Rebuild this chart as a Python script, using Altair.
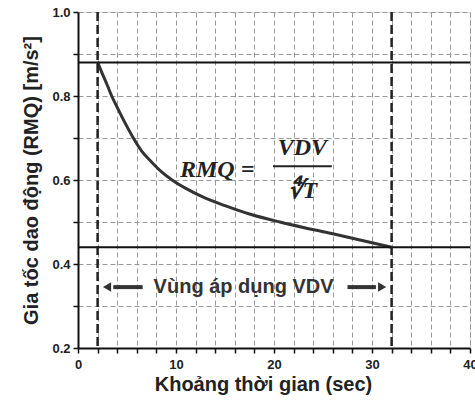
import altair as alt
import pandas as pd

# Curve RMQ vs time
curve_t = [2, 2.5, 3, 3.44, 4, 4.8, 5.6, 6.5, 7.5, 8.5, 9.6, 11, 13, 15, 17.5, 20.6, 23, 26, 29, 32]
curve_v = [0.880, 0.852, 0.825, 0.800, 0.773, 0.736, 0.702, 0.669, 0.643, 0.620, 0.600,
           0.580, 0.557, 0.539, 0.519, 0.500, 0.487, 0.472, 0.456, 0.440]

hlines = [0.88, 0.44]
vlines = [2, 32]
x_ticks = list(range(0, 41, 2))
y_ticks = [0.2, 0.3, 0.4, 0.5, 0.6, 0.7, 0.8, 0.9, 1.0]

x_title = "Khoảng thời gian (sec)"
y_title = "Gia tốc dao động (RMQ) [m/s²]"
region_label = "Vùng áp dụng VDV"

df_curve = pd.DataFrame({"t": curve_t, "v": curve_v})
df_h = pd.DataFrame({"y": hlines})
df_v = pd.DataFrame({"x": vlines})

xs = alt.Scale(domain=[0, 40], nice=False)
ys = alt.Scale(domain=[0.2, 1.0], nice=False)

FONT = "Liberation Sans"

xaxis = alt.Axis(values=x_ticks, tickCount=100, format="d",
                 labelExpr="datum.value % 10 == 0 ? datum.label : ''",
                 labelOverlap=False,
                 grid=True, gridDash=[5, 3], gridColor="#999", gridWidth=1,
                 domainColor="#111", domainWidth=2, tickColor="#111", tickWidth=1.5, tickSize=5,
                 labelFont=FONT, labelFontSize=13, labelFontWeight="bold", labelColor="#222",
                 labelPadding=5, labelFlush=False,
                 title=x_title, titleFont=FONT, titleFontSize=20, titleFontWeight="bold",
                 titleColor="#222", titlePadding=3, titleX=185)
yaxis = alt.Axis(values=y_ticks, tickCount=100, format=".1f",
                 labelExpr="round(datum.value*10) % 2 == 0 ? datum.label : ''",
                 labelOverlap=False,
                 grid=True, gridDash=[5, 3], gridColor="#999", gridWidth=1,
                 domainColor="#111", domainWidth=2, tickColor="#111", tickWidth=1.5, tickSize=5,
                 labelFont=FONT, labelFontSize=13, labelFontWeight="bold", labelColor="#222",
                 labelPadding=3, labelFlush=False,
                 title=y_title, titleFont=FONT, titleFontSize=20, titleFontWeight="bold",
                 titleColor="#222", titlePadding=10)

base_curve = alt.Chart(df_curve).mark_line(color="#333", strokeWidth=3, interpolate="monotone").encode(
    x=alt.X("t:Q", scale=xs, axis=xaxis),
    y=alt.Y("v:Q", scale=ys, axis=yaxis),
)

h_rules = alt.Chart(df_h).mark_rule(color="#111", strokeWidth=2).encode(
    y=alt.Y("y:Q", scale=ys)
)
v_rules = alt.Chart(df_v).mark_rule(color="#222", strokeWidth=2.5, strokeDash=[9, 4]).encode(
    x=alt.X("x:Q", scale=xs)
)

# Formula annotation
ann = pd.DataFrame({
    "x": [14.2, 22.9, 22.9],
    "y": [0.624, 0.676, 0.574],
    "txt": ["RMQ =", "VDV", "∜T"],
})
formula = alt.Chart(ann).mark_text(font="Liberation Serif", fontSize=24, fontStyle="italic",
                                   fontWeight="bold", color="#222").encode(
    x=alt.X("x:Q", scale=xs), y=alt.Y("y:Q", scale=ys), text="txt:N")
bar = alt.Chart(pd.DataFrame({"x": [19.9], "x2": [25.9], "y": [0.633]})).mark_rule(
    color="#222", strokeWidth=2).encode(x=alt.X("x:Q", scale=xs), x2="x2:Q", y=alt.Y("y:Q", scale=ys))

# Region label with arrows
lab = alt.Chart(pd.DataFrame({"x": [16.9], "y": [0.345], "txt": [region_label]})).mark_text(
    font=FONT, fontSize=20, fontWeight="bold", color="#333").encode(
    x=alt.X("x:Q", scale=xs), y=alt.Y("y:Q", scale=ys), text="txt:N")
arrows = pd.DataFrame({"x": [3.6, 27.5], "x2": [6.6, 30.4], "y": [0.345, 0.345]})
arrow_shafts = alt.Chart(arrows).mark_rule(color="#333", strokeWidth=4).encode(
    x=alt.X("x:Q", scale=xs), x2="x2:Q", y=alt.Y("y:Q", scale=ys))
heads = pd.DataFrame({"x": [3.1, 30.9], "y": [0.345, 0.345], "ang": [270, 90]})
arrow_heads = alt.Chart(heads).mark_point(shape="triangle", filled=True, color="#333",
                                          size=90, opacity=1).encode(
    x=alt.X("x:Q", scale=xs), y=alt.Y("y:Q", scale=ys),
    angle=alt.Angle("ang:Q", scale=None))

chart = alt.layer(base_curve, h_rules, v_rules, formula, bar, lab, arrow_shafts, arrow_heads).properties(
    width=392, height=336,
    autosize=alt.AutoSizeParams(type="none"),
    padding={"left": 78, "top": 12, "right": 5, "bottom": 58},
).configure_view(stroke="#111", strokeWidth=2).configure(background="white")

chart.save("out.html", embed_options={"renderer": "svg", "actions": False})
